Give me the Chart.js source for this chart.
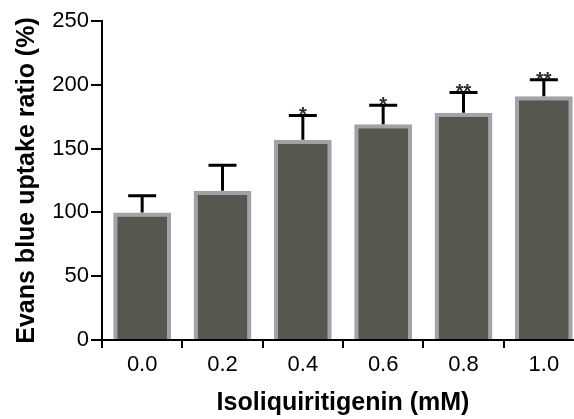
<!DOCTYPE html>
<html>
<head>
<meta charset="utf-8">
<script src="https://cdn.jsdelivr.net/npm/chart.js@4/dist/chart.umd.min.js"></script>
<style>
  html, body { margin: 0; padding: 0; background: #fff; overflow: hidden; }
  #wrap { width: 584px; height: 419px; }
</style>
</head>
<body>
<div id="wrap"><canvas id="chart" width="584" height="419"></canvas></div>
<script>
const doses = ['0.0', '0.2', '0.4', '0.6', '0.8', '1.0'];
const uptake = [100, 117, 157, 169, 178, 191];
const uptakeErr = [13, 20, 19, 15, 16, 13];
const marks = ['', '', '*', '*', '**', '**'];
const yTicks = [0, 50, 100, 150, 200, 250];

const FONT = '"Liberation Sans", Arial, sans-serif';

// upward-only error bars plus significance stars
const errorBars = {
    id: 'errorBars',
    afterDatasetsDraw(chart) {
        const ctx = chart.ctx;
        const meta = chart.getDatasetMeta(0);
        const y = chart.scales.y;
        ctx.save();
        ctx.strokeStyle = '#000';
        ctx.lineWidth = 3;
        meta.data.forEach(function (bar, i) {
            const top = y.getPixelForValue(uptake[i] + uptakeErr[i]);
            const base = y.getPixelForValue(uptake[i]);
            ctx.beginPath();
            ctx.moveTo(bar.x, base);
            ctx.lineTo(bar.x, top);
            ctx.moveTo(bar.x - 14, top);
            ctx.lineTo(bar.x + 14, top);
            ctx.stroke();
            if (marks[i]) {
                ctx.fillStyle = '#2a2a3a';
                ctx.font = 'bold 20px ' + FONT;
                ctx.textAlign = 'center';
                ctx.textBaseline = 'alphabetic';
                ctx.fillText(marks[i], bar.x, top + 6);
            }
        });
        ctx.restore();
    }
};

new Chart(document.getElementById('chart').getContext('2d'), {
    type: 'bar',
    data: {
        labels: doses,
        datasets: [{
            data: uptake,
            backgroundColor: '#57574f',
            borderColor: '#a2a2a8',
            borderWidth: 4,
            barPercentage: 0.72,
            categoryPercentage: 1
        }]
    },
    options: {
        responsive: false,
        animation: false,
        layout: { padding: { top: 21, right: 0, left: 0, bottom: 0 } },
        plugins: { legend: { display: false }, tooltip: { enabled: false } },
        scales: {
            x: {
                grid: { display: true, drawOnChartArea: false, color: '#000', lineWidth: 2, tickLength: 8 },
                border: { display: true, color: '#000', width: 2 },
                ticks: { color: '#000', font: { family: FONT, size: 22 }, padding: 4 },
                title: {
                    display: true,
                    text: 'Isoliquiritigenin (mM)',
                    color: '#000',
                    font: { family: FONT, size: 25, weight: 'bold' },
                    padding: { top: 0, bottom: 1 }
                },
                afterFit(scale) { scale.height = 79; }
            },
            y: {
                min: 0,
                max: 250,
                afterBuildTicks(scale) { scale.ticks = yTicks.map(v => ({ value: v })); },
                grid: { display: true, drawOnChartArea: false, color: '#000', lineWidth: 2, tickLength: 11 },
                border: { display: true, color: '#000', width: 2 },
                ticks: { color: '#000', font: { family: FONT, size: 22 }, padding: 2 },
                title: {
                    display: true,
                    text: 'Evans blue uptake ratio (%)',
                    color: '#000',
                    font: { family: FONT, size: 25, weight: 'bold' },
                    padding: { top: 12, bottom: 0 }
                },
                afterFit(scale) { scale.width = 102; }
            }
        }
    },
    plugins: [errorBars]
});
</script>
</body>
</html>
